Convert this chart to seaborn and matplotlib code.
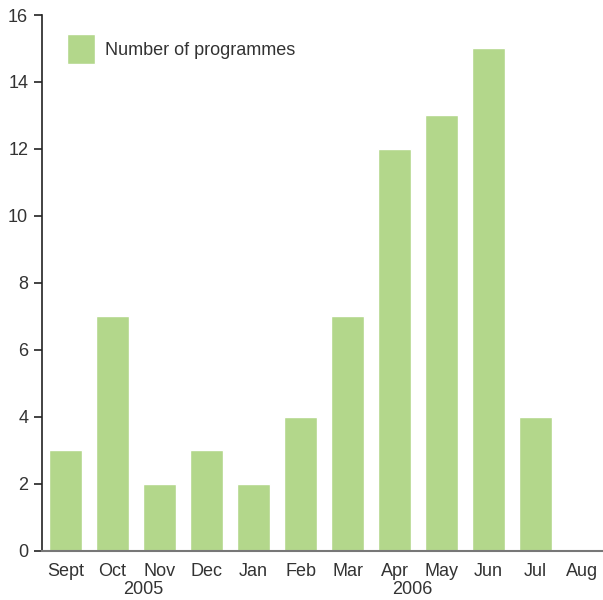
import matplotlib
matplotlib.use("Agg")
import matplotlib.pyplot as plt
import matplotlib.transforms as mtransforms
import seaborn as sns
import pandas as pd

# data
months = ['Sept', 'Oct', 'Nov', 'Dec', 'Jan', 'Feb', 'Mar', 'Apr', 'May', 'Jun', 'Jul', 'Aug']
programmes = [3, 7, 2, 3, 2, 4, 7, 12, 13, 15, 4, 0]
years = ['2005', '2006']
year_pos = [1.66, 7.38]

sns.set_style('white')
plt.rcParams['font.family'] = ['Liberation Sans', 'DejaVu Sans']

df = pd.DataFrame({'month': months, 'n': programmes})

fig = plt.figure(figsize=(6.03, 6.0), dpi=100)
ax = fig.add_axes([0.0697, 0.0817, 0.9353, 0.8933])

sns.barplot(data=df, x='month', y='n', color='#b3d78b', saturation=1,
            width=0.70, ax=ax, label='Number of programmes')

ax.set_ylim(0, 16)
ax.set_xlim(-0.5, 11.5)
ax.set_yticks(range(0, 17, 2))
ax.set_xlabel('')
ax.set_ylabel('')

for s in ['top', 'right']:
    ax.spines[s].set_visible(False)
ax.spines['left'].set_color('#222222')
ax.spines['left'].set_linewidth(1.2)
ax.spines['bottom'].set_color('#777777')
ax.spines['bottom'].set_linewidth(1.5)

ax.tick_params(axis='y', direction='out', length=6, width=1.2, color='#222222',
               labelsize=13, labelcolor='#333333', pad=4, left=True)
ax.tick_params(axis='x', length=0, labelsize=13, labelcolor='#333333', pad=9)

# year labels below the month names
trans = mtransforms.blended_transform_factory(ax.transData, fig.transFigure)
for yr, xp in zip(years, year_pos):
    ax.text(xp, 0.004, yr, ha='center', va='bottom', fontsize=13, color='#333333',
            transform=trans, clip_on=False)

leg = ax.legend(loc='upper left', bbox_to_anchor=(0.015, 0.995), frameon=False,
                fontsize=13, handlelength=1.55, handleheight=2.2, handletextpad=0.55)
for t in leg.get_texts():
    t.set_color('#333333')

fig.savefig('out.png', dpi=100)
